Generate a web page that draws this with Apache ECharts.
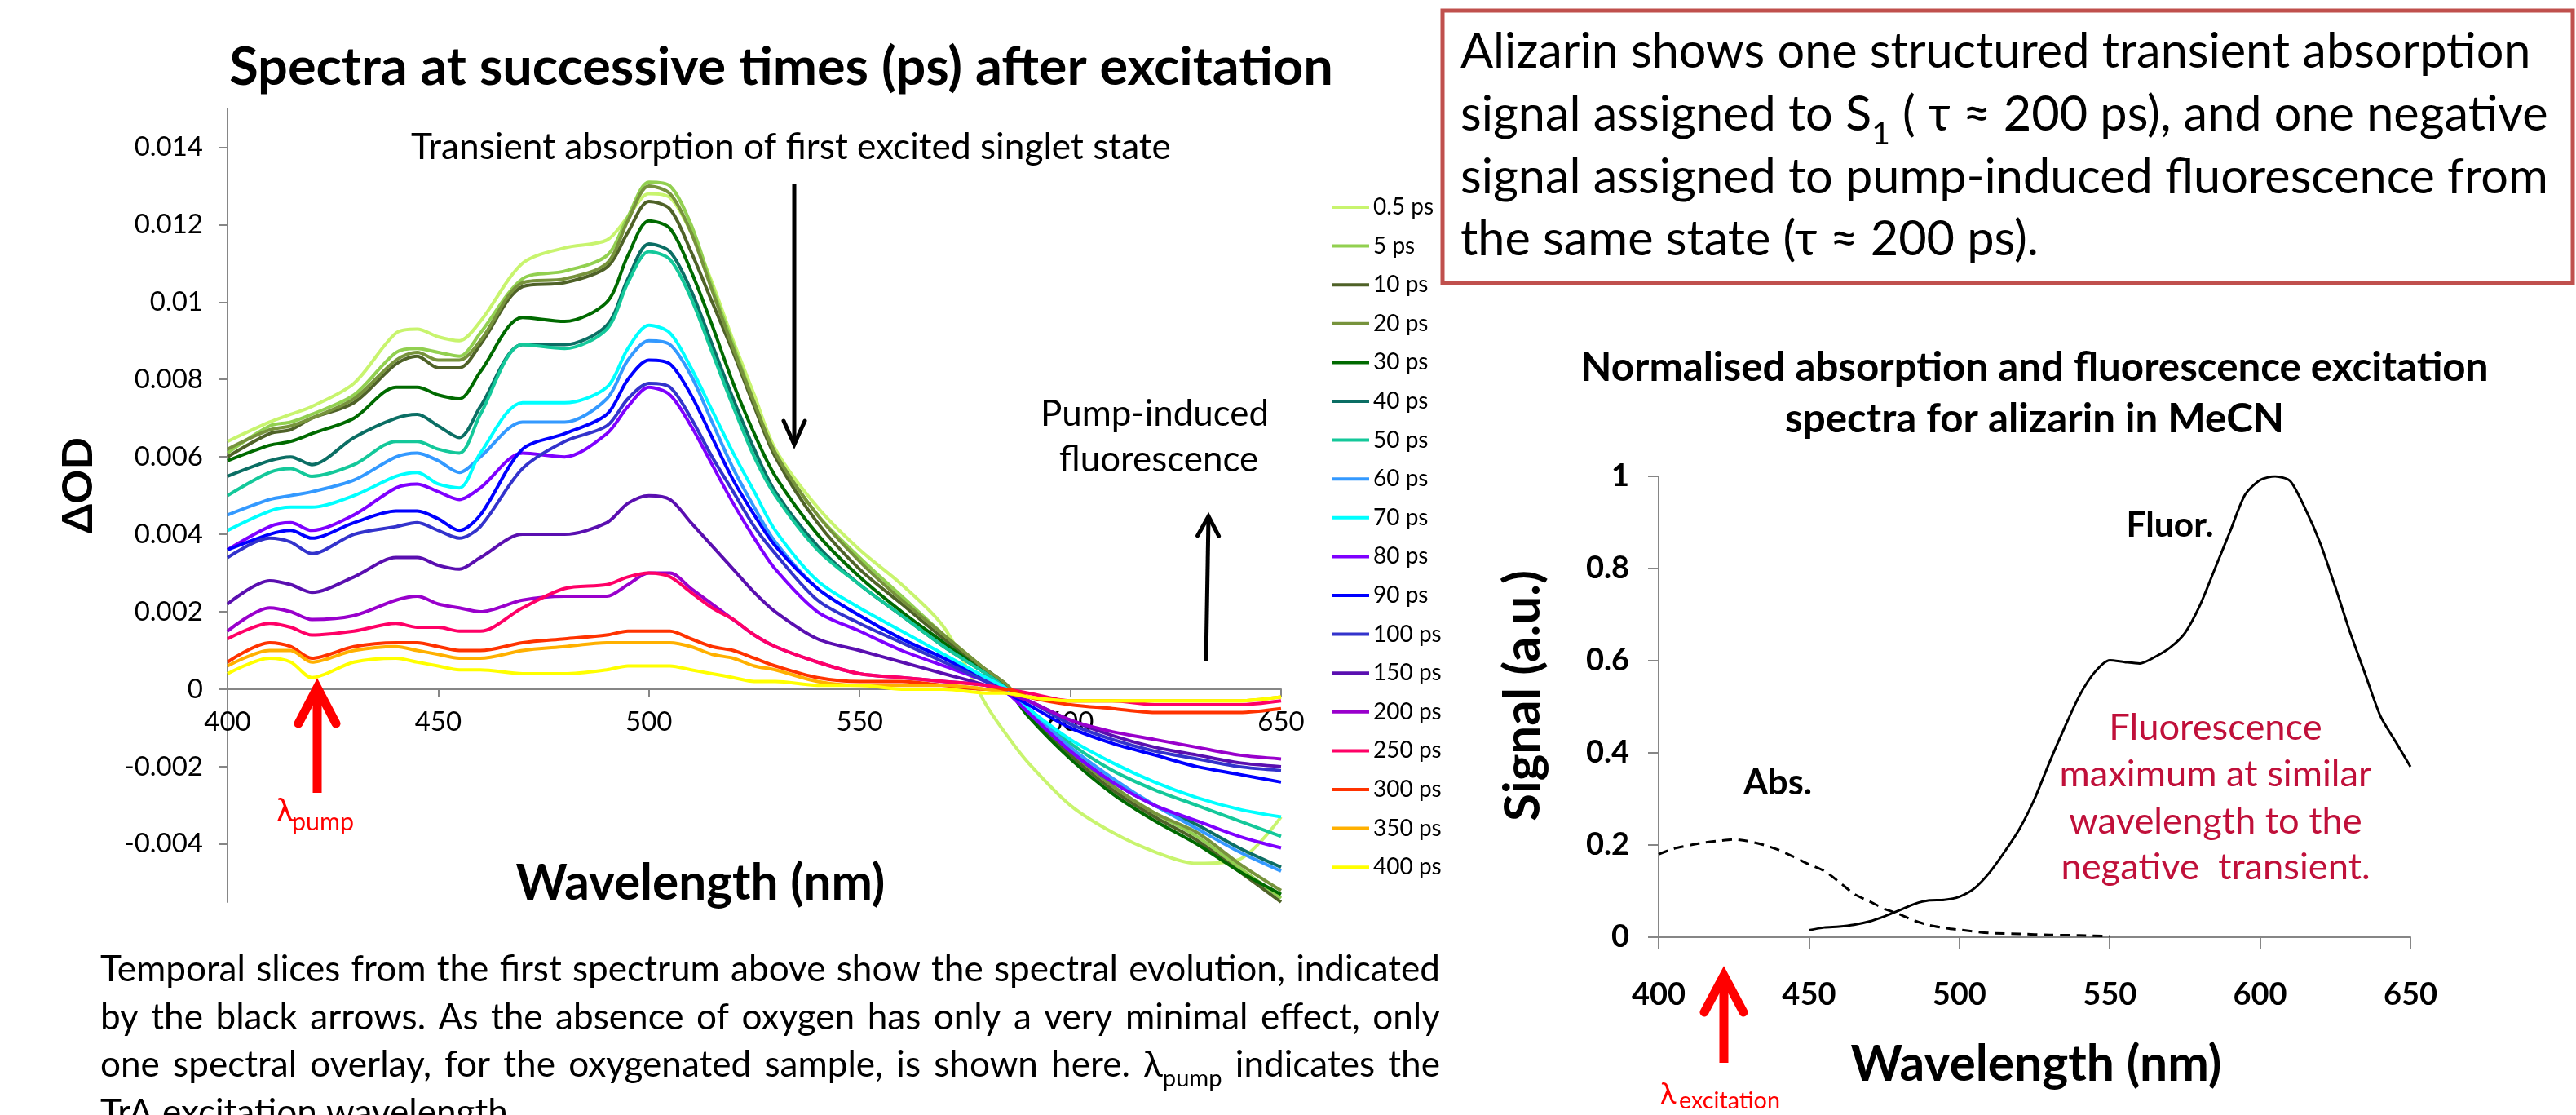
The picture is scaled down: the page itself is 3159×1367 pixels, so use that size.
<!doctype html>
<html>
<head>
<meta charset="UTF-8">
<title>Alizarin transient absorption</title>
<script src="https://cdn.jsdelivr.net/npm/echarts@6/dist/echarts.min.js"></script>
<style>html,body{margin:0;background:#fff}#chart{width:3159px;height:1367px}</style>
</head>
<body>
<div id="chart"></div>
<script>
// ---- transient absorption spectra (left) ----
var wavelengths = [400,410,415,420,430,440,445,450,455,460,470,480,490,495,500,505,510,515,520,525,530,540,550,560,570,580,585,590,600,610,620,630,640,650];
var times = ['0.5 ps','5 ps','10 ps','20 ps','30 ps','40 ps','50 ps','60 ps','70 ps','80 ps','90 ps','100 ps','150 ps','200 ps','250 ps','300 ps','350 ps','400 ps'];

var od_0_5 = [.0064,.0069,.0071,.0073,.0079,.0092,.0093,.0091,.0090,.0095,.0110,.0114,.0116,.0122,.0128,.0127,.0118,.0105,.0090,.0076,.0062,.0047,.0036,.0027,.0016,-.0004,-.0012,-.0019,-.0030,-.0037,-.0042,-.0045,-.0044,-.0033];
var od_5   = [.0061,.0068,.0069,.0071,.0076,.0087,.0088,.0087,.0086,.0092,.0106,.0108,.0112,.0122,.0131,.0130,.0120,.0104,.0089,.0074,.0061,.0045,.0034,.0024,.0014,.0005,.0001,-.0005,-.0016,-.0025,-.0032,-.0038,-.0046,-.0054];
var od_10  = [.0060,.0066,.0067,.0070,.0074,.0084,.0086,.0083,.0083,.0089,.0104,.0105,.0109,.0118,.0126,.0124,.0113,.0100,.0087,.0073,.0060,.0043,.0031,.0022,.0013,.0005,.0001,-.0006,-.0017,-.0026,-.0033,-.0039,-.0047,-.0055];
var od_20  = [.0062,.0067,.0068,.0070,.0075,.0085,.0087,.0085,.0085,.0090,.0105,.0106,.0110,.0121,.0130,.0128,.0118,.0103,.0088,.0074,.0061,.0045,.0033,.0023,.0014,.0005,.0001,-.0005,-.0016,-.0025,-.0032,-.0037,-.0045,-.0052];
var od_30  = [.0059,.0063,.0064,.0066,.0070,.0078,.0078,.0076,.0075,.0082,.0096,.0095,.0100,.0112,.0121,.0119,.0108,.0094,.0079,.0066,.0055,.0040,.0029,.0020,.0012,.0004,.0000,-.0007,-.0018,-.0027,-.0034,-.0040,-.0047,-.0053];
var od_40  = [.0055,.0059,.0060,.0058,.0065,.0070,.0071,.0068,.0065,.0073,.0089,.0089,.0094,.0106,.0115,.0113,.0103,.0089,.0075,.0062,.0051,.0037,.0027,.0019,.0011,.0004,.0000,-.0006,-.0016,-.0024,-.0030,-.0035,-.0041,-.0046];
var od_50  = [.0050,.0056,.0057,.0055,.0058,.0064,.0064,.0062,.0061,.0071,.0089,.0088,.0093,.0105,.0113,.0111,.0101,.0087,.0073,.0060,.0050,.0036,.0027,.0019,.0011,.0004,.0000,-.0005,-.0014,-.0021,-.0026,-.0030,-.0034,-.0038];
var od_60  = [.0045,.0049,.0050,.0051,.0054,.0060,.0061,.0059,.0056,.0060,.0069,.0069,.0075,.0085,.0090,.0089,.0081,.0069,.0057,.0047,.0038,.0026,.0019,.0013,.0008,.0003,.0000,-.0005,-.0015,-.0023,-.0030,-.0036,-.0042,-.0047];
var od_70  = [.0041,.0046,.0047,.0047,.0050,.0055,.0056,.0053,.0052,.0061,.0074,.0074,.0078,.0088,.0094,.0092,.0083,.0072,.0061,.0051,.0041,.0028,.0021,.0015,.0009,.0003,.0000,-.0005,-.0013,-.0019,-.0024,-.0028,-.0031,-.0033];
var od_80  = [.0036,.0042,.0043,.0041,.0045,.0052,.0053,.0051,.0049,.0052,.0061,.0060,.0066,.0073,.0078,.0076,.0068,.0058,.0048,.0039,.0031,.0020,.0015,.0010,.0006,.0002,-.0001,-.0006,-.0016,-.0024,-.0030,-.0034,-.0038,-.0041];
var od_90  = [.0036,.0040,.0041,.0039,.0043,.0046,.0046,.0044,.0041,.0045,.0062,.0066,.0071,.0080,.0085,.0084,.0076,.0065,.0054,.0045,.0037,.0026,.0019,.0013,.0008,.0002,-.0001,-.0004,-.0010,-.0014,-.0017,-.0020,-.0022,-.0024];
var od_100 = [.0034,.0039,.0038,.0035,.0040,.0042,.0043,.0041,.0039,.0042,.0057,.0064,.0068,.0075,.0079,.0078,.0070,.0060,.0051,.0042,.0035,.0023,.0017,.0012,.0007,.0002,-.0001,-.0003,-.0009,-.0013,-.0016,-.0018,-.0020,-.0021];
var od_150 = [.0022,.0028,.0027,.0025,.0029,.0034,.0034,.0032,.0031,.0034,.0040,.0040,.0043,.0048,.0050,.0049,.0043,.0037,.0031,.0025,.0020,.0013,.0010,.0007,.0004,.0001,-.0001,-.0003,-.0008,-.0012,-.0015,-.0017,-.0019,-.0020];
var od_200 = [.0015,.0021,.0020,.0018,.0019,.0023,.0024,.0022,.0021,.0020,.0023,.0024,.0024,.0027,.0030,.0030,.0026,.0022,.0018,.0014,.0011,.0007,.0004,.0003,.0002,.0001,-.0001,-.0003,-.0008,-.0011,-.0013,-.0015,-.0017,-.0018];
var od_250 = [.0013,.0017,.0016,.0014,.0015,.0017,.0016,.0016,.0015,.0015,.0021,.0026,.0027,.0029,.0030,.0029,.0025,.0021,.0018,.0014,.0011,.0007,.0004,.0003,.0002,.0001,.0000,-.0001,-.0003,-.0003,-.0004,-.0004,-.0004,-.0003];
var od_300 = [.0007,.0012,.0011,.0008,.0011,.0012,.0012,.0011,.0010,.0010,.0012,.0013,.0014,.0015,.0015,.0015,.0013,.0011,.0010,.0008,.0006,.0003,.0002,.0002,.0001,.0000,.0000,-.0002,-.0004,-.0005,-.0006,-.0006,-.0006,-.0005];
var od_350 = [.0006,.0010,.0010,.0007,.0010,.0011,.0010,.0009,.0008,.0008,.0010,.0011,.0012,.0012,.0012,.0012,.0011,.0009,.0008,.0006,.0005,.0002,.0001,.0001,.0001,.0000,-.0001,-.0002,-.0003,-.0003,-.0003,-.0003,-.0003,-.0002];
var od_400 = [.0004,.0008,.0007,.0003,.0007,.0008,.0007,.0006,.0005,.0005,.0004,.0004,.0005,.0006,.0006,.0006,.0005,.0004,.0003,.0002,.0002,.0001,.0001,.0000,.0000,-.0001,-.0001,-.0002,-.0003,-.0003,-.0003,-.0003,-.0003,-.0002];

var spectra = [od_0_5, od_5, od_10, od_20, od_30, od_40, od_50, od_60, od_70, od_80, od_90, od_100, od_150, od_200, od_250, od_300, od_350, od_400];
var yTicksLeft = [-0.004, -0.002, 0, 0.002, 0.004, 0.006, 0.008, 0.01, 0.012, 0.014];

// ---- normalised absorption / fluorescence excitation (right) ----
var absWl  = [400,405,410,415,420,425,430,435,440,445,450,455,460,465,470,475,480,485,490,495,500,510,520,530,540,550];
var absVal = [0.180,0.192,0.199,0.205,0.209,0.212,0.208,0.200,0.189,0.174,0.158,0.144,0.120,0.094,0.078,0.062,0.050,0.036,0.026,0.020,0.016,0.009,0.007,0.005,0.004,0.002];
var fluWl  = [450,455,460,465,470,475,480,485,490,495,500,505,510,515,520,525,530,535,540,545,550,555,560,565,570,575,580,585,590,595,600,605,610,615,620,625,630,635,640,645,650];
var fluVal = [0.015,0.021,0.023,0.027,0.034,0.045,0.058,0.072,0.080,0.081,0.088,0.106,0.140,0.185,0.235,0.300,0.380,0.455,0.525,0.575,0.601,0.597,0.594,0.608,0.628,0.660,0.720,0.800,0.880,0.960,0.992,1.000,0.990,0.930,0.855,0.760,0.660,0.570,0.480,0.425,0.370];

// styles
var lineColors = ['#c8f46e','#92d050','#4f6228','#77933c','#006a00','#0b6e64','#14c89a','#3399ff','#00ffff','#7f00ff','#0000ff','#3333cc','#5a0fb0','#9900cc','#ff0066','#ff3300','#ffb000','#ffff00'];
var FONT = 'Lato, "Noto Sans", sans-serif';
var AXIS = '#868686';

var mctx = document.createElement('canvas').getContext('2d');
function fontStr(weight, size) { return weight + ' ' + size + 'px ' + FONT; }
function measure(str, weight, size) {
  mctx.font = fontStr(weight, size);
  return mctx.measureText(str).width;
}
function fitSize(str, weight, width) { return 100 * width / measure(str, weight, 100); }
function midOffset(weight, size) {
  mctx.font = fontStr(weight, size);
  mctx.textBaseline = 'alphabetic';
  var a = mctx.measureText('Hg').fontBoundingBoxAscent;
  mctx.textBaseline = 'middle';
  var m = mctx.measureText('Hg').fontBoundingBoxAscent;
  mctx.textBaseline = 'alphabetic';
  var d = a - m;
  return isFinite(d) ? d : 0.36 * size;
}
// text placed by its baseline
function txt(str, x, base, size, o) {
  o = o || {};
  var w = o.weight || 'normal';
  return {
    type: 'text', x: x, y: base - midOffset(w, size), z: 100, silent: true,
    style: { text: str, x: 0, y: 0, fill: o.fill || '#000', font: fontStr(w, size),
             align: o.align || 'left', verticalAlign: 'middle' }
  };
}
// rotated text placed by its centre
function rtxt(str, cx, cy, size, weight) {
  return {
    type: 'text', x: cx, y: cy, rotation: Math.PI / 2, z: 100, silent: true,
    style: { text: str, x: 0, y: 0, fill: '#000', font: fontStr(weight, size), align: 'center', verticalAlign: 'middle' }
  };
}
var SUB = 0.66, SUBDY = 0.28;
function runsOf(word) {
  var k = word.indexOf('_');
  if (k < 0) return [{ t: word }];
  return [{ t: word.slice(0, k) }, { t: word.slice(k + 1), sub: true }];
}
function naturalWidth(str, size) {
  var words = str.split(' ').map(runsOf), sp = measure(' ', 'normal', size), tot = 0;
  words.forEach(function (w) { w.forEach(function (r) { tot += measure(r.t, 'normal', r.sub ? size * SUB : size); }); });
  return tot + sp * (words.length - 1);
}
function layLine(str, x0, x1, base, size, justify, fill) {
  var words = str.split(' ').map(runsOf);
  var sp = measure(' ', 'normal', size);
  var ws = words.map(function (w) {
    return w.reduce(function (a, r) { return a + measure(r.t, 'normal', r.sub ? size * SUB : size); }, 0);
  });
  var total = ws.reduce(function (a, b) { return a + b; }, 0);
  var gap = justify && words.length > 1 ? (x1 - x0 - total) / (words.length - 1) : sp;
  var x = x0, out = [];
  words.forEach(function (w) {
    w.forEach(function (r) {
      var s = r.sub ? size * SUB : size;
      out.push(txt(r.t, x, base + (r.sub ? SUBDY * size : 0), s, { fill: fill }));
      x += measure(r.t, 'normal', s);
    });
    x += gap;
  });
  return out;
}
function arrow(x0, y0, x1, y1, hw, hl, width, color) {
  var dx = x1 - x0, dy = y1 - y0, len = Math.sqrt(dx * dx + dy * dy), ux = dx / len, uy = dy / len;
  var bx = x1 - ux * hl, by = y1 - uy * hl;
  return [
    { type: 'line', z: 90, silent: true, shape: { x1: x0, y1: y0, x2: x1 - ux * 2, y2: y1 - uy * 2 },
      style: { stroke: color, lineWidth: width } },
    { type: 'polyline', z: 90, silent: true,
      shape: { points: [[bx - uy * hw, by + ux * hw], [x1, y1], [bx + uy * hw, by - ux * hw]] },
      style: { stroke: color, lineWidth: width, fill: null, lineJoin: 'miter', lineCap: 'round' } }
  ];
}

var chart = echarts.init(document.getElementById('chart'));

var series = spectra.map(function (vals, i) {
  return {
    name: times[i], type: 'line', xAxisIndex: 0, yAxisIndex: 0, symbol: 'none', silent: true, smooth: 0.3,
    data: wavelengths.map(function (w, j) { return [w, vals[j]]; }),
    lineStyle: { width: 4, color: lineColors[i] }, itemStyle: { color: lineColors[i] }
  };
});
series.push({
  name: 'Abs.', type: 'line', xAxisIndex: 1, yAxisIndex: 1, symbol: 'none', smooth: 0.25, silent: true,
  data: absWl.map(function (w, j) { return [w, absVal[j]]; }),
  lineStyle: { width: 3, color: '#000', type: [12, 8] }
});
series.push({
  name: 'Fluor.', type: 'line', xAxisIndex: 1, yAxisIndex: 1, symbol: 'none', smooth: 0.25, silent: true,
  data: fluWl.map(function (w, j) { return [w, fluVal[j]]; }),
  lineStyle: { width: 3, color: '#000' }
});

// ---- annotation graphics ----
var gr = [];
function add(a) { gr = gr.concat(a); }

var titleL = 'Spectra at successive times (ps) after excitation';
add(txt(titleL, 958, 104, fitSize(titleL, 'bold', 1354), { weight: 'bold', align: 'center' }));
var annTA = 'Transient absorption of first excited singlet state';
add(txt(annTA, 970, 195, fitSize(annTA, 'normal', 932), { align: 'center' }));
var sPump = fitSize('Pump-induced', 'normal', 280);
add(txt('Pump-induced', 1416, 522, sPump, { align: 'center' }));
add(txt('fluorescence', 1421, 578, sPump, { align: 'center' }));
add(rtxt('ΔOD', 96, 595, fitSize('ΔOD', 'bold', 118), 'bold'));
var sWl = fitSize('Wavelength (nm)', 'bold', 453);
add(txt('Wavelength (nm)', 859, 1103, sWl, { weight: 'bold', align: 'center' }));
add(txt('λ', 339, 1007, 40, { fill: '#ff0000' }));
add(txt('pump', 358, 1018, fitSize('pump', 'normal', 76), { fill: '#ff0000' }));
add(arrow(974, 226, 974, 545, 13, 29, 5, '#000'));
add(arrow(1479, 811, 1482, 633, 13, 24, 5, '#000'));
add(arrow(389, 972, 389, 843, 23, 44, 11, '#ff0000'));

// text box
add({ type: 'rect', z: 80, silent: true, shape: { x: 1769, y: 13, width: 1386, height: 334 },
      style: { fill: '#fff', stroke: '#c0504d', lineWidth: 5 } });
var boxLines = ['Alizarin shows one structured transient absorption',
                'signal assigned to S_1 ( τ ≈ 200 ps), and one negative',
                'signal assigned to pump-induced fluorescence from',
                'the same state (τ ≈ 200 ps).'];
var boxBase = [83, 160, 237, 313];
var sBox = 100 * 1334 / naturalWidth(boxLines[2], 100);
boxLines.forEach(function (l, i) { add(layLine(l, 1791, 3125, boxBase[i], sBox, false, '#000')); });

// right chart texts
var titleR1 = 'Normalised absorption and fluorescence excitation';
var titleR2 = 'spectra for alizarin in MeCN';
var sTR = fitSize(titleR2, 'bold', 612);
add(txt(titleR1, 2495, 467, sTR, { weight: 'bold', align: 'center' }));
add(txt(titleR2, 2495, 530, sTR, { weight: 'bold', align: 'center' }));
add(rtxt('Signal (a.u.)', 1868, 853, fitSize('Signal (a.u.)', 'bold', 308), 'bold'));
add(txt('Wavelength (nm)', 2497, 1325, fitSize('Wavelength (nm)', 'bold', 455), { weight: 'bold', align: 'center' }));
add(txt('Fluor.', 2661, 658, fitSize('Fluor.', 'bold', 107), { weight: 'bold', align: 'center' }));
add(txt('Abs.', 2180, 974, fitSize('Abs.', 'bold', 84), { weight: 'bold', align: 'center' }));
var redLines = ['Fluorescence', 'maximum at similar', 'wavelength to the', 'negative  transient.'];
var redBase = [907, 964, 1022, 1078];
var sRed = fitSize(redLines[1], 'normal', 383);
redLines.forEach(function (l, i) { add(txt(l, 2717, redBase[i], sRed, { fill: '#c0103a', align: 'center' })); });
add(txt('λ', 2036, 1353, 36, { fill: '#ff0000' }));
add(txt('excitation', 2059, 1359, fitSize('excitation', 'normal', 124), { fill: '#ff0000' }));
add(arrow(2114, 1303, 2114, 1196, 24, 45, 11, '#ff0000'));

// paragraph below the left chart (justified)
var para = ['Temporal slices from the first spectrum above show the spectral evolution, indicated',
            'by the black arrows. As the absence of oxygen has only a very minimal effect, only',
            'one spectral overlay, for the oxygenated sample, is shown here. λ_pump indicates the',
            'TrA excitation wavelength.'];
var paraBase = [1203, 1262, 1320, 1379];
var sPara = Math.min(fitSize('Temporal', 'normal', 178), 100 * 1630 / naturalWidth(para[0], 100));
para.forEach(function (l, i) { add(layLine(l, 123, 1766, paraBase[i], sPara, i < 3, '#000')); });

var labelL = { fontSize: 33, color: '#000', fontFamily: FONT };
var labelR = { fontSize: 38, color: '#000', fontFamily: FONT, fontWeight: 'bold' };

chart.setOption({
  animation: false,
  backgroundColor: '#fff',
  textStyle: { fontFamily: FONT },
  grid: [
    { left: 279, top: 133, width: 1292, height: 973 },
    { left: 2034, top: 584, width: 922, height: 565 },
    // carries the wavelength scale of the left chart along its zero line
    { left: 279, top: 133, width: 1292, height: 712 }
  ],
  xAxis: [
    { type: 'value', gridIndex: 0, min: 400, max: 650, interval: 50, show: false },
    { type: 'value', gridIndex: 1, min: 400, max: 650, interval: 50,
      axisLine: { onZero: true, lineStyle: { color: AXIS, width: 2 } },
      axisTick: { length: 15, lineStyle: { color: AXIS, width: 2 } },
      axisLabel: Object.assign({ margin: 52 }, labelR),
      splitLine: { show: false } },
    { type: 'value', gridIndex: 2, min: 400, max: 650, interval: 50,
      axisLine: { onZero: false, lineStyle: { color: AXIS, width: 2 } },
      axisTick: { length: 10, lineStyle: { color: AXIS, width: 2 } },
      axisLabel: Object.assign({ margin: 24 }, labelL),
      splitLine: { show: false } }
  ],
  yAxis: [
    { type: 'value', gridIndex: 0, min: -0.0055, max: 0.015,
      axisLine: { show: true, onZero: false, lineStyle: { color: AXIS, width: 2 } },
      axisTick: { show: true, length: 10, customValues: yTicksLeft, lineStyle: { color: AXIS, width: 2 } },
      axisLabel: Object.assign({ margin: 30, customValues: yTicksLeft,
        formatter: function (v) { return String(+v.toFixed(4)); } }, labelL),
      splitLine: { show: false } },
    { type: 'value', gridIndex: 1, min: 0, max: 1, interval: 0.2,
      axisLine: { show: true, onZero: false, lineStyle: { color: AXIS, width: 2 } },
      axisTick: { show: true, length: 13, lineStyle: { color: AXIS, width: 2 } },
      axisLabel: Object.assign({ margin: 36,
        formatter: function (v) { return String(+v.toFixed(1)); } }, labelR),
      splitLine: { show: false } },
    { type: 'value', gridIndex: 2, min: 0, max: 1, show: false }
  ],
  legend: {
    data: times, orient: 'vertical', left: 1633, top: 240, padding: 0,
    itemWidth: 46, itemHeight: 4, itemGap: 19.6, selectedMode: false, icon: 'rect',
    textStyle: { fontSize: 28, color: '#000', fontFamily: FONT }
  },
  graphic: gr,
  series: series
});
</script>
</body>
</html>
